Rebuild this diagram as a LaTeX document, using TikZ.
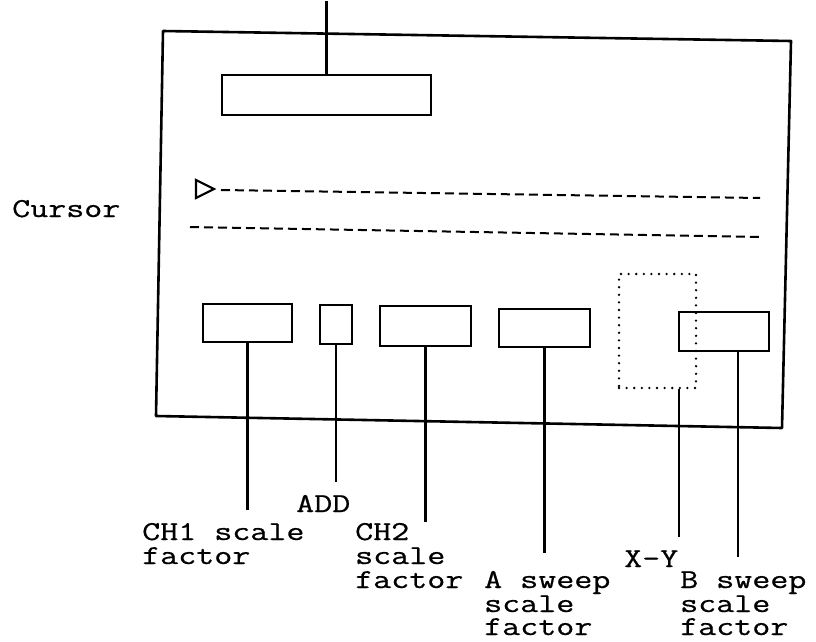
\documentclass[tikz,border=0pt]{standalone}
\usepackage{fontspec}
\usepackage{graphicx}
\setmonofont{Latin Modern Mono}[FakeBold=0.6]
\newcommand{\squashtext}[1]{\scalebox{1}[0.78]{#1}}
\begin{document}
\begin{tikzpicture}[x=1pt,y=-1pt,
  frame/.style={line width=2.6pt, line join=round},
  box/.style={draw, line width=2.5pt, inner sep=0pt},
  lead/.style={line width=2.1pt},
  lbl/.style={font=\ttfamily\fontsize{35}{25}\selectfont, inner sep=0pt, anchor=base west},
  cursorline/.style={line width=2pt, dash pattern=on 9pt off 5pt},
  dotbox/.style={draw, line width=2.6pt, line cap=round, dash pattern=on 0pt off 7.6pt, inner sep=0pt}]
\useasboundingbox (0,0) rectangle (816,642);
% housing
\draw[frame] (163,31) -- (791,41) -- (782,428) -- (156,416) -- cycle;
% top box
\node[box, minimum width=209pt, minimum height=40pt] (top) at (326.5,95) {};
\coordinate (topend) at (326.5,1);
\draw[lead] (top.north) -- (topend);
% cursor
\node[lbl] (cur) at (12,217) {\squashtext{Cursor}};
\draw[line width=2.2pt, line join=miter] (196,180) -- (214,189) -- (196,198) -- cycle;
\draw[cursorline] (221,190) -- (760,198);
\draw[cursorline] (190,227) -- (760,237);
% bottom boxes
\node[box, minimum width=89pt, minimum height=38pt] (b1) at (247.5,323) {};
\node[box, minimum width=32pt, minimum height=39pt] (b2) at (336,324.5) {};
\node[box, minimum width=91pt, minimum height=40pt] (b3) at (425.5,326) {};
\node[box, minimum width=91pt, minimum height=38pt] (b4) at (544.5,328) {};
\node[dotbox, minimum width=77pt, minimum height=114pt] (xy) at (657.5,331) {};
\node[box, minimum width=90pt, minimum height=39pt] (b5) at (724,331.5) {};
% leader ends
\coordinate (e1) at (247.5,510);
\coordinate (e2) at (336,482);
\coordinate (e3) at (425.5,522);
\coordinate (e4) at (544.5,553);
\coordinate (exy) at (679,537);
\coordinate (e5) at (738,557);
\draw[lead] (b1.south) -- (e1);
\draw[lead] (b2.south) -- (e2);
\draw[lead] (b3.south) -- (e3);
\draw[lead] (b4.south) -- (e4);
\draw[lead] (xy.south -| exy) -- (exy);
\draw[lead] (b5.south -| e5) -- (e5);
% labels
\node[lbl] (tadd) at (296,512) {\squashtext{ADD}};
\node[lbl] (t1a) at (142,540) {\squashtext{CH1 scale}};
\node[lbl] (t1b) at (142,564) {\squashtext{factor}};
\node[lbl] (t2a) at (355,540) {\squashtext{CH2}};
\node[lbl] (t2b) at (355,564) {\squashtext{scale}};
\node[lbl] (t2c) at (355,588) {\squashtext{factor}};
\node[lbl] (t3a) at (484,588) {\squashtext{A sweep}};
\node[lbl] (t3b) at (484,612) {\squashtext{scale}};
\node[lbl] (t3c) at (484,635) {\squashtext{factor}};
\node[lbl] (txy) at (624,567) {\squashtext{X-Y}};
\node[lbl] (t4a) at (680,588) {\squashtext{B sweep}};
\node[lbl] (t4b) at (680,612) {\squashtext{scale}};
\node[lbl] (t4c) at (680,635) {\squashtext{factor}};
\end{tikzpicture}
\end{document}
